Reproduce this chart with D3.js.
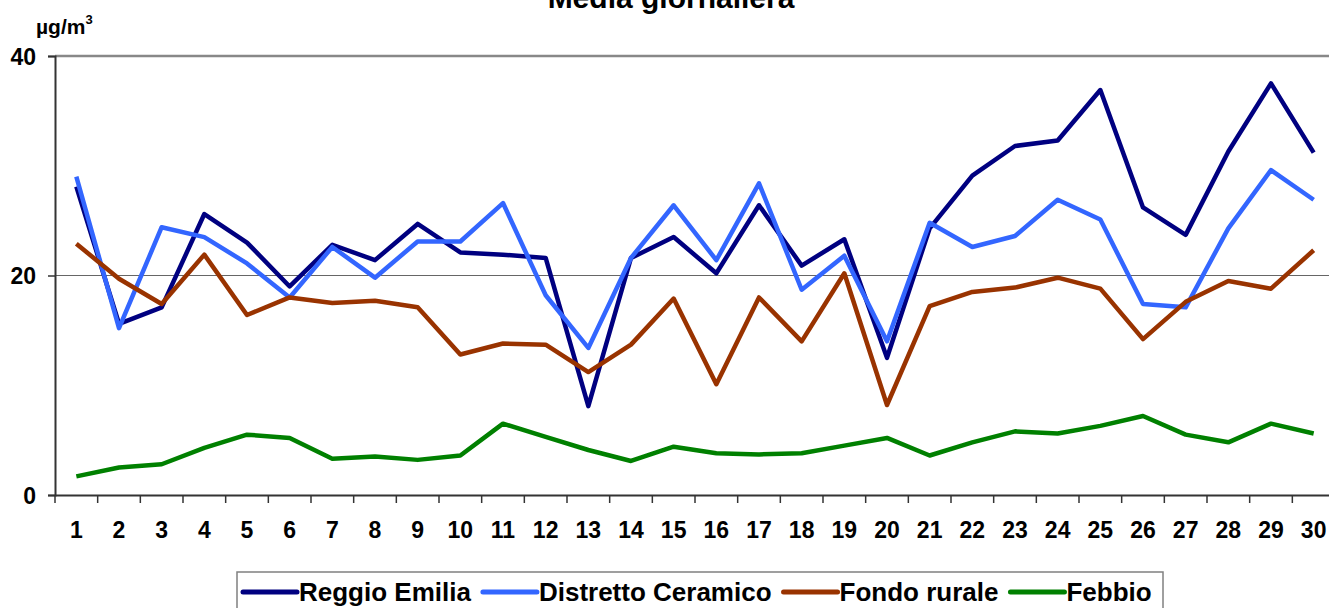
<!DOCTYPE html>
<html>
<head>
<meta charset="utf-8">
<script src="https://cdn.jsdelivr.net/npm/d3@7"></script>
<style>
  body { margin: 0; background: #fff; }
  text { font-family: Arial, "Liberation Sans", sans-serif; font-weight: bold; fill: #000; }
</style>
</head>
<body>
<div class="chart"></div>
<script>
var days = d3.range(1, 31);
var yTicks = [0, 20, 40];
var seriesNames = ["Reggio Emilia", "Distretto Ceramico", "Fondo rurale", "Febbio"];
var reggio = [28.1, 15.6, 17.1, 25.6, 23.0, 19.0, 22.8, 21.4, 24.7, 22.1, 21.9, 21.6, 8.1, 21.6, 23.5,
  20.2, 26.4, 20.9, 23.3, 12.5, 24.3, 29.1, 31.8, 32.3, 36.9, 26.2, 23.7, 31.3, 37.5, 31.2];
var distretto = [29.0, 15.2, 24.4, 23.5, 21.1, 18.0, 22.6, 19.8, 23.1, 23.1, 26.6, 18.2, 13.4, 21.6, 26.4,
  21.4, 28.4, 18.7, 21.8, 14.0, 24.8, 22.6, 23.6, 26.9, 25.1, 17.4, 17.1, 24.3, 29.6, 26.9];
var fondo = [22.9, 19.7, 17.4, 21.9, 16.4, 18.0, 17.5, 17.7, 17.1, 12.8, 13.8, 13.7, 11.2, 13.7, 17.9,
  10.1, 18.0, 14.0, 20.2, 8.2, 17.2, 18.5, 18.9, 19.8, 18.8, 14.2, 17.6, 19.5, 18.8, 22.3];
var febbio = [1.7, 2.5, 2.8, 4.3, 5.5, 5.2, 3.3, 3.5, 3.2, 3.6, 6.5, 5.3, 4.1, 3.1, 4.4,
  3.8, 3.7, 3.8, 4.5, 5.2, 3.6, 4.8, 5.8, 5.6, 6.3, 7.2, 5.5, 4.8, 6.5, 5.6];

(function() {
  var
    width = 1329,
    height = 608,
    colors = ["#000080", "#3366ff", "#993300", "#008000"],
    values = [reggio, distretto, fondo, febbio];

  var x = d3.scaleBand().domain(days).range([55, 1335]);
  var y = d3.scaleLinear().domain([0, 40]).range([495, 56]);
  function cx(d) { return x(d) + x.bandwidth() / 2; }

  var svg = d3.select(".chart").append("svg")
    .attr("width", width)
    .attr("height", height);

  // title (cut by the top edge, as in the original)
  svg.append("text")
    .attr("x", 671).attr("y", 8)
    .attr("text-anchor", "middle")
    .style("font-size", "30px")
    .text("Media giornaliera");

  // unit
  var unit = svg.append("text").attr("x", 36).attr("y", 34).style("font-size", "21px");
  unit.append("tspan").text("\u00b5g/m");
  unit.append("tspan").attr("dy", -10).style("font-size", "13px").text("3");

  // gridlines
  svg.selectAll("line.grid")
    .data(yTicks.filter(function(d) { return d > 0; })).enter()
    .append("line")
      .attr("class", "grid")
      .attr("x1", 55).attr("x2", width)
      .attr("y1", function(d) { return y(d); })
      .attr("y2", function(d) { return y(d); })
      .attr("stroke", function(d) { return d == 40 ? "#888" : "#666"; })
      .attr("stroke-width", function(d) { return d == 40 ? 2.5 : 1.2; });

  // y axis
  var yAxis = svg.append("g").attr("transform", "translate(55,0)")
    .call(d3.axisLeft(y).tickValues(yTicks).tickSize(7).tickPadding(12));
  yAxis.select(".domain").attr("stroke", "#333").attr("stroke-width", 2);
  yAxis.selectAll(".tick line").attr("stroke", "#333").attr("stroke-width", 1.5);
  yAxis.selectAll("text").style("font-size", "23px").attr("font-family", null).attr("dy", "0.36em");

  // x axis: labels at centres, ticks at band edges
  var xAxis = svg.append("g").attr("transform", "translate(0,495)")
    .call(d3.axisBottom(x).tickSize(0).tickPadding(27));
  xAxis.select(".domain").attr("stroke", "#333").attr("stroke-width", 2);
  xAxis.selectAll("text").style("font-size", "23px").attr("font-family", null);
  svg.selectAll("line.xtick")
    .data(days).enter()
    .append("line")
      .attr("class", "xtick")
      .attr("x1", function(d) { return x(d); })
      .attr("x2", function(d) { return x(d); })
      .attr("y1", 495).attr("y2", 503)
      .attr("stroke", "#333").attr("stroke-width", 1.5);

  // series
  var line = d3.line()
    .x(function(d, i) { return cx(days[i]); })
    .y(function(d) { return y(d); });
  svg.selectAll("path.series")
    .data(values).enter()
    .append("path")
      .attr("class", "series")
      .attr("d", line)
      .attr("fill", "none")
      .attr("stroke", function(d, i) { return colors[i]; })
      .attr("stroke-width", 4.5)
      .attr("stroke-linejoin", "round");

  // legend
  var legend = svg.append("g");
  legend.append("rect")
    .attr("x", 237).attr("y", 572)
    .attr("width", 926).attr("height", 60)
    .attr("fill", "#fff").attr("stroke", "#808080").attr("stroke-width", 1.5);
  var lx = 243;
  seriesNames.forEach(function(name, i) {
    legend.append("line")
      .attr("x1", lx).attr("x2", lx + 54)
      .attr("y1", 592).attr("y2", 592)
      .attr("stroke", colors[i]).attr("stroke-width", 5)
      .attr("stroke-linecap", "round");
    var t = legend.append("text")
      .attr("x", lx + 56).attr("y", 601)
      .style("font-size", "26px")
      .text(name);
    lx += 56 + t.node().getComputedTextLength() + 12;
  });
})();
</script>
</body>
</html>
